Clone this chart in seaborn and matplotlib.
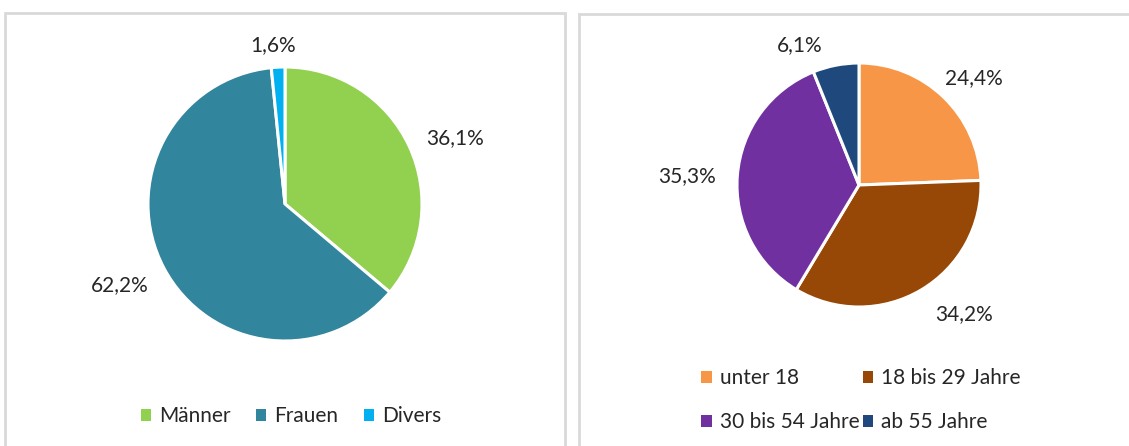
import numpy as np
import matplotlib
matplotlib.use("Agg")
import matplotlib.pyplot as plt
from matplotlib.patches import Rectangle, Patch
import seaborn as sns

# Data
gender_labels = ["Männer", "Frauen", "Divers"]
gender_values = [36.1, 62.2, 1.6]
gender_colors = ["#92D050", "#31859C", "#00B0F0"]

age_labels = ["unter 18", "18 bis 29 Jahre", "30 bis 54 Jahre", "ab 55 Jahre"]
age_values = [24.4, 34.2, 35.3, 6.1]
age_colors = ["#F79646", "#974706", "#7030A0", "#1F497D"]

sns.set_theme(style="white")
plt.rcParams['font.family'] = ['Lato', 'DejaVu Sans']

W, H = 1129, 446
fig = plt.figure(figsize=(W / 100, H / 100), dpi=100)
fig.patch.set_facecolor("white")

# panel borders
for x0, y0, x1 in [(5, 13, 565), (579, 14, 1135)]:
    fig.patches.append(Rectangle((x0 / W, -0.05), (x1 - x0) / W, (H - y0) / H + 0.05,
                                 transform=fig.transFigure, fill=False,
                                 edgecolor="#D9D9D9", linewidth=2))


def fmt(v):
    return f"{v:.1f}%".replace(".", ",")


def draw_pie(cx, cy, r, values, colors, dists, offsets):
    ax = fig.add_axes([(cx - r) / W, (H - cy - r) / H, 2 * r / W, 2 * r / H])
    wedges, _ = ax.pie(values, colors=sns.color_palette(colors), startangle=90,
                       counterclock=False, radius=1.0,
                       wedgeprops=dict(edgecolor="white", linewidth=2.2))
    ax.set_xlim(-1, 1)
    ax.set_ylim(-1, 1)
    ax.set_aspect("equal")
    ax.axis("off")
    for w, v, d, (ox, oy) in zip(wedges, values, dists, offsets):
        ang = np.deg2rad((w.theta1 + w.theta2) / 2)
        ax.text(d * np.cos(ang) + ox, d * np.sin(ang) + oy, fmt(v), ha="center", va="center",
                fontsize=15, color="#262626", clip_on=False)
    return wedges


draw_pie(285, 204, 137, gender_values, gender_colors, [1.30, 1.36, 1.16],
         [(0.06, -0.065), (0, 0.04), (-0.03, 0)])
draw_pie(859, 185, 122, age_values, age_colors, [1.34, 1.35, 1.41, 1.25],
         [(0.01, -0.09), (0.17, 0.1), (0, -0.04), (-0.25, -0.08)])

h1 = [Patch(facecolor=c, edgecolor="none") for c in gender_colors]
fig.legend(h1, gender_labels, loc="center", bbox_to_anchor=(291 / W, 1 - 416 / H),
           ncol=3, frameon=False, fontsize=15, handlelength=0.5, handleheight=0.5,
           handletextpad=0.4, columnspacing=1.2, labelcolor="#262626")

order = [0, 2, 1, 3]
h2 = [Patch(facecolor=age_colors[i], edgecolor="none") for i in order]
fig.legend(h2, [age_labels[i] for i in order], loc="center",
           bbox_to_anchor=(861 / W, 1 - 400 / H),
           ncol=2, frameon=False, fontsize=15, handlelength=0.5, handleheight=0.5,
           handletextpad=0.4, columnspacing=0.15, labelspacing=1.15, labelcolor="#262626")

fig.savefig("out.png", dpi=100)
